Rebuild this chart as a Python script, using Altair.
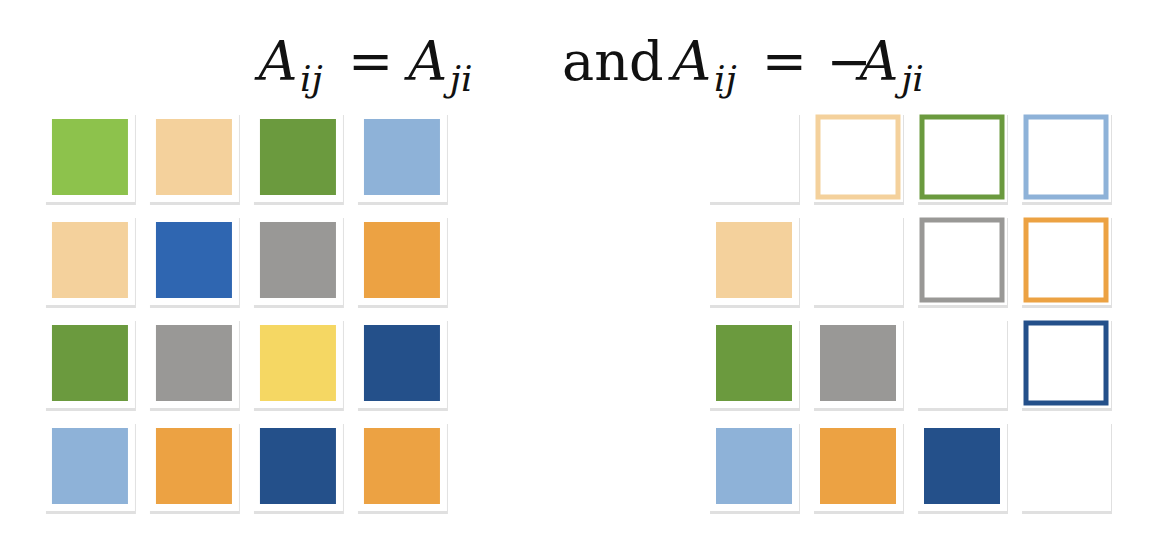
import altair as alt
import pandas as pd

colors = {
    "lgreen": "#8dc24c", "peach": "#f4d19c", "dgreen": "#6b9a3e", "lblue": "#8eb2d8",
    "blue": "#2f66b1", "gray": "#999896", "orange": "#eca243", "yellow": "#f5d763", "navy": "#24508a",
}
left = [
    ["lgreen", "peach", "dgreen", "lblue"],
    ["peach", "blue", "gray", "orange"],
    ["dgreen", "gray", "yellow", "navy"],
    ["lblue", "orange", "navy", "orange"],
]
sym = [
    [None, "peach", "dgreen", "lblue"],
    ["peach", None, "gray", "orange"],
    ["dgreen", "gray", None, "navy"],
    ["lblue", "orange", "navy", None],
]
offset = 6.385

# title pieces: (u, text)
main_italic = [(1.62, "A"), (3.06, "A"), (5.60, "A"), (7.40, "A")]
sub_italic = [(2.02, "ij"), (3.46, "ji"), (6.00, "ij"), (7.80, "ji")]
upright = [(2.48, "="), (4.54, "and"), (6.46, "="), (7.08, "−")]

frames, fills, outlines = [], [], []
for r in range(4):
    for c in range(4):
        frames.append({"u": c, "v": r})
        fills.append({"u": c, "v": r, "col": colors[left[r][c]]})
        u = c + offset
        frames.append({"u": u, "v": r})
        k = sym[r][c]
        if k is None:
            continue
        if r > c:
            fills.append({"u": u, "v": r, "col": colors[k]})
        else:
            outlines.append({"u": u, "v": r, "col": colors[k]})

X = alt.X("u:Q", scale=alt.Scale(domain=[-0.788, 10.308]), axis=None)
Y = alt.Y("v:Q", scale=alt.Scale(domain=[-1.447, 3.679], reverse=True), axis=None)

shadow = alt.Chart(pd.DataFrame(frames)).mark_square(size=8100, color="#000", opacity=0.12, yOffset=3, xOffset=1).encode(x=X, y=Y)
frame = alt.Chart(pd.DataFrame(frames)).mark_square(size=8100, color="white", opacity=1).encode(x=X, y=Y)
fill = alt.Chart(pd.DataFrame(fills)).mark_square(size=5776, opacity=1).encode(
    x=X, y=Y, color=alt.Color("col:N", scale=None))
outline = alt.Chart(pd.DataFrame(outlines)).mark_square(size=6400, fill="white", filled=False, strokeWidth=5, opacity=1).encode(
    x=X, y=Y, stroke=alt.Stroke("col:N", scale=None))

def txt(items, v, size, style):
    df = pd.DataFrame([{"u": u, "v": v, "t": t} for u, t in items])
    return alt.Chart(df).mark_text(font="DejaVu Serif", fontSize=size, fontStyle=style, color="#111",
                                   align="left", baseline="alphabetic").encode(x=X, y=Y, text="t:N")

t1 = txt(main_italic, -0.748, 54, "italic")
t2 = txt(sub_italic, -0.64, 36, "italic")
t3 = txt(upright, -0.748, 54, "normal")

chart = (shadow + frame + fill + outline + t1 + t2 + t3).properties(
    width=1154, height=528, padding=0).configure_view(stroke=None)
chart.save("out.html", embed_options={"renderer": "svg", "actions": False})
